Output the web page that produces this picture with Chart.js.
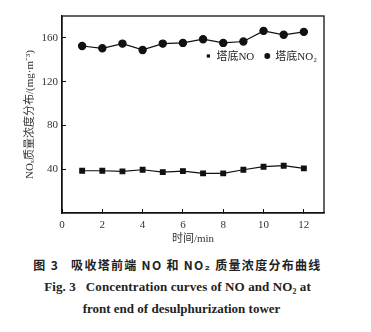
<!DOCTYPE html>
<html>
<head>
<meta charset="utf-8">
<script src="https://cdn.jsdelivr.net/npm/chart.js@4/dist/chart.umd.min.js"></script>
<style>
  body { margin: 0; background: #fff; width: 371px; height: 332px; position: relative; overflow: hidden; }
  #wrap { position: absolute; left: 0; top: 0; width: 371px; height: 250px; }
  .cap { position: absolute; left: -8px; width: 371px; text-align: center; color: #222; white-space: pre; }
  #cap1 { top: 256px; font: bold 12px "Noto Sans CJK SC", sans-serif; letter-spacing: 1.3px; }
  #cap2 { top: 279px; font: bold 13px "Liberation Serif", serif; letter-spacing: 0.1px; }
  #cap3 { top: 301px; font: bold 13px "Liberation Serif", serif; letter-spacing: 0px; left: -4px; }
</style>
</head>
<body>
<div id="wrap"><canvas id="chart" width="371" height="250"></canvas></div>
<div class="cap" id="cap1">图 3   吸收塔前端 NO 和 NO₂ 质量浓度分布曲线</div>
<div class="cap" id="cap2">Fig. 3   Concentration curves of NO and NO₂ at</div>
<div class="cap" id="cap3">front end of desulphurization tower</div>
<script>
const times = [1, 2, 3, 4, 5, 6, 7, 8, 9, 10, 11, 12];
const noValues = [38.6, 38.6, 38.0, 39.5, 37.4, 38.3, 36.2, 36.2, 39.5, 42.3, 43.2, 40.8];
const no2Values = [152.6, 150.5, 154.8, 149.0, 154.8, 155.4, 158.8, 155.4, 156.7, 166.4, 162.8, 165.5];
const xTicks = [0, 2, 4, 6, 8, 10, 12];
const yTicks = [40, 80, 120, 160];

const serif = '"Liberation Serif", "Noto Sans CJK SC", serif';

// box round the plot and a legend inside it, top right
const frame = {
    id: 'frame',
    afterDraw(chart) {
        const a = chart.chartArea, ctx = chart.ctx;
        ctx.save();
        ctx.strokeStyle = '#111';
        ctx.lineWidth = 1.3;
        ctx.strokeRect(a.left, a.top, a.right - a.left, a.bottom - a.top);

        ctx.font = '11px ' + serif;
        ctx.textBaseline = 'middle';
        const y = a.top + 40;
        const items = chart.data.datasets.map(d => ({ text: d.label, style: d.pointStyle, w: ctx.measureText(d.label).width }));
        let total = 0;
        items.forEach((it, i) => { total += 6 + 5 + it.w + (i < items.length - 1 ? 10 : 0); });
        let x = a.right - 7 - total;
        items.forEach(it => {
            ctx.fillStyle = '#111';
            Chart.helpers.drawPoint(ctx, { pointStyle: it.style, radius: it.style === 'rect' ? 2.3 : 2.9, rotation: 0, borderWidth: 0 }, x + 3, y);
            ctx.fillStyle = '#222';
            ctx.fillText(it.text, x + 11, y + 1);
            x += 11 + it.w + 10;
        });
        ctx.restore();
    }
};

new Chart(document.getElementById('chart'), {
    type: 'line',
    data: {
        datasets: [{
            label: '塔底NO',
            data: times.map((t, i) => ({ x: t, y: noValues[i] })),
            borderColor: '#111',
            backgroundColor: '#111',
            borderWidth: 1.2,
            pointStyle: 'rect',
            pointRadius: 3.3,
            tension: 0
        }, {
            label: '塔底NO₂',
            data: times.map((t, i) => ({ x: t, y: no2Values[i] })),
            borderColor: '#111',
            backgroundColor: '#111',
            borderWidth: 1.2,
            pointStyle: 'circle',
            pointRadius: 3.6,
            tension: 0
        }]
    },
    options: {
        responsive: false,
        animation: false,
        layout: { padding: { left: 24, top: 16, right: 47, bottom: 0 } },
        plugins: {
            tooltip: { enabled: false },
            legend: { display: false }
        },
        scales: {
            x: {
                type: 'linear',
                min: 0,
                max: 13,
                afterBuildTicks: s => { s.ticks = xTicks.map(v => ({ value: v })); },
                afterFit: s => { s.height = 37; },
                grid: { drawOnChartArea: false, tickLength: -4, color: '#111' },
                border: { color: '#111', width: 1.3 },
                ticks: { color: '#333', padding: 10, font: { family: serif, size: 11 } },
                title: { display: true, text: '时间/min', color: '#333', padding: { top: 0 }, font: { family: serif, size: 11 } }
            },
            y: {
                min: 0,
                max: 180,
                afterBuildTicks: s => { s.ticks = yTicks.map(v => ({ value: v })); },
                afterFit: s => { s.width = 38; },
                grid: { drawOnChartArea: false, tickLength: -4, color: '#111' },
                border: { color: '#111', width: 1.3 },
                ticks: { color: '#333', padding: 8, font: { family: serif, size: 11 } },
                title: { display: true, text: 'NOₓ质量浓度分布/(mg·m⁻³)', color: '#333', padding: { top: 0, bottom: 0 }, font: { family: serif, size: 11 } }
            }
        }
    },
    plugins: [frame]
});
</script>
</body>
</html>
